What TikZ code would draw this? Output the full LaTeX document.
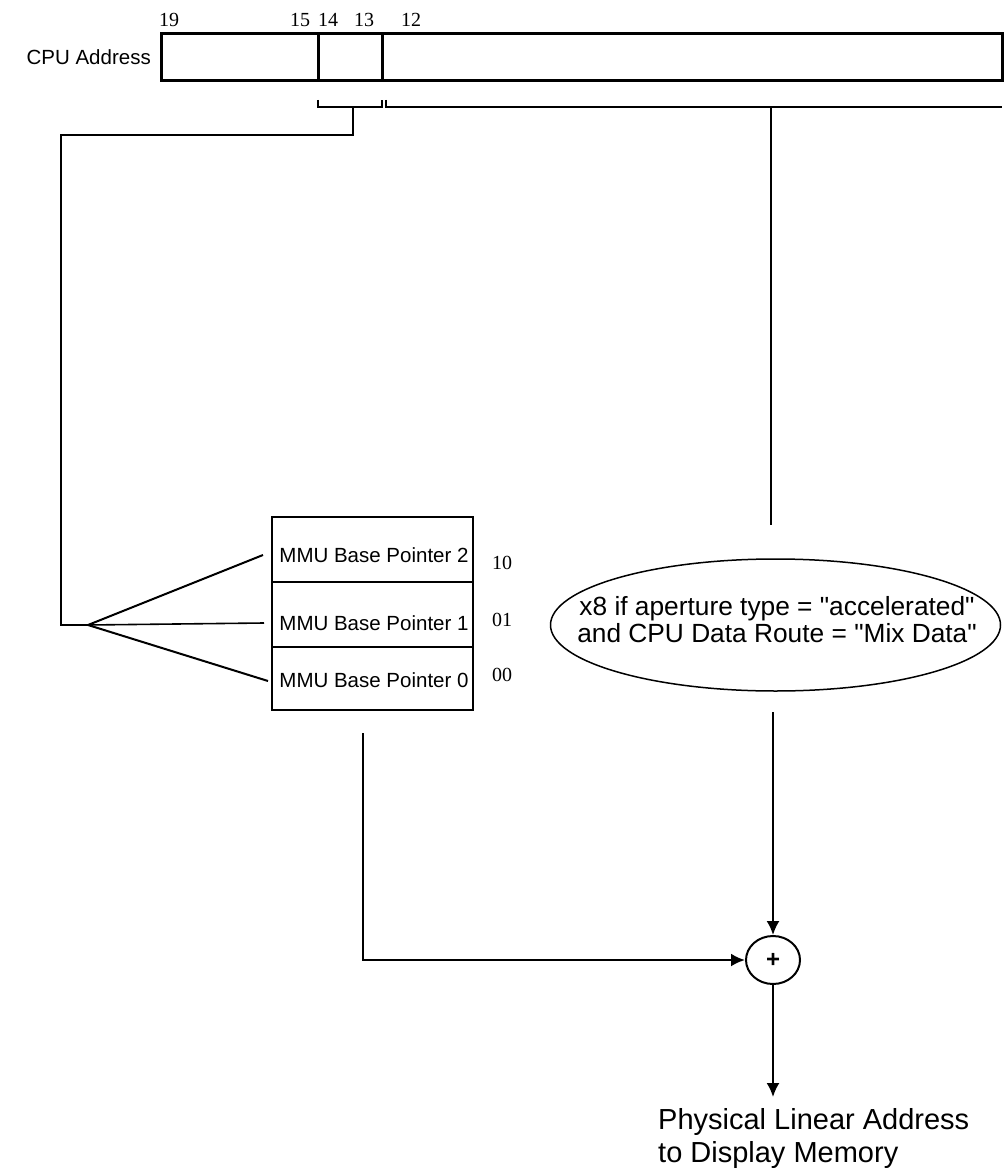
\documentclass[tikz,border=0pt]{standalone}
\usepackage{fontspec}
\setmainfont{Liberation Serif}
\setsansfont{Liberation Sans}
\usetikzlibrary{arrows.meta,shapes.geometric}
\tikzset{
  cella/.style={draw, line width=3pt, inner sep=0pt, outer sep=0pt, minimum height=47pt},
  etic/.style={font=\sffamily\fontsize{20.5}{22}\selectfont, inner sep=0pt},
  bit/.style={font=\fontsize{20}{20}\selectfont, inner sep=0pt},
  filo/.style={line width=2.4pt},
  freccia/.style={line width=2pt, -{Latex[length=14pt,width=13pt]}}
}
\begin{document}
\begin{tikzpicture}[x=1pt, y=-1pt]
  \useasboundingbox (0,0) rectangle (1004,1174);

  % Registro dell'indirizzo CPU
  \node[cella, minimum width=157pt] (hi) at (239.5,57.5) {};
  \node[cella, minimum width=64pt] (sel) at (350,57.5) {};
  \node[cella, minimum width=620pt] (lo) at (692,57.5) {};
  \node[etic, anchor=east] (cpu) at (151,57.5) {CPU Address};
  \node[bit] (b19) at (169,20) {19};
  \node[bit] (b15) at (300,20) {15};
  \node[bit] (b14) at (328,20) {14};
  \node[bit] (b13) at (364,20) {13};
  \node[bit] (b12) at (411,20) {12};

  % Parentesi sotto il registro
  \draw[line width=1.3pt] (318,100) -- (318,107) -- (382,107) -- (382,100);
  \draw[line width=1.3pt] (386,100) -- (386,107) -- (1002,107);
  \coordinate (s1) at (353,107);
  \coordinate (s2) at (771,107);

  % Tabella dei puntatori MMU
  \node[draw, line width=2.5pt, minimum width=201pt, minimum height=193pt,
        inner sep=0pt] (mmu) at (372.5,613.5) {};
  \draw[line width=2.5pt] (272,582) -- (473,582);
  \draw[line width=2.5pt] (272,647) -- (473,647);
  \node[etic] (p2) at (374,555) {MMU Base Pointer 2};
  \node[etic] (p1) at (374,623) {MMU Base Pointer 1};
  \node[etic] (p0) at (374,680) {MMU Base Pointer 0};
  \node[bit] (v2) at (502,563) {10};
  \node[bit] (v1) at (502,620) {01};
  \node[bit] (v0) at (502,675) {00};

  % Selezione dai bit 14-13
  \coordinate (fan) at (88,625);
  \coordinate (e2) at (263,555);
  \coordinate (e1) at (264,623);
  \coordinate (e0) at (268,681);
  \draw[filo] (s1) -- (353,135) -- (61,135) -- (61,625) -- (fan);
  \draw[line width=2pt] (fan) -- (e2);
  \draw[line width=1.6pt] (fan) -- (e1);
  \draw[line width=2pt] (fan) -- (e0);

  % Condizione x8
  \coordinate (d1) at (771,525);
  \draw[line width=1.8pt] (s2) -- (d1);
  \draw[line width=1.5pt] (775.5,625) ellipse [x radius=225pt, y radius=66pt];
  \node[align=center, inner sep=0pt, font=\sffamily\fontsize{26.3}{27}\selectfont]
        (cond) at (777,620)
        {x8 if aperture type = \textquotedbl accelerated\textquotedbl\\
         and CPU Data Route = \textquotedbl Mix Data\textquotedbl};

  % Somma e uscita
  \node[draw, ellipse, line width=2pt, minimum width=54pt, minimum height=48pt,
        inner sep=0pt, font=\sffamily\bfseries\fontsize{24}{24}\selectfont] (sum) at (773,960) {+};
  \coordinate (d2) at (773,712);
  \coordinate (d3) at (363,733);
  \coordinate (out) at (773,1097);
  \draw[freccia] (d2) -- (sum.north);
  \draw[freccia, line width=2.4pt] (d3) |- (sum.west);
  \draw[freccia] (sum.south) -- (out);
  \node[anchor=north west, align=left, inner sep=0pt,
        font=\sffamily\fontsize{29}{33}\selectfont] (fisico) at (658,1108)
        {Physical Linear Address\\to Display Memory};
\end{tikzpicture}
\end{document}
